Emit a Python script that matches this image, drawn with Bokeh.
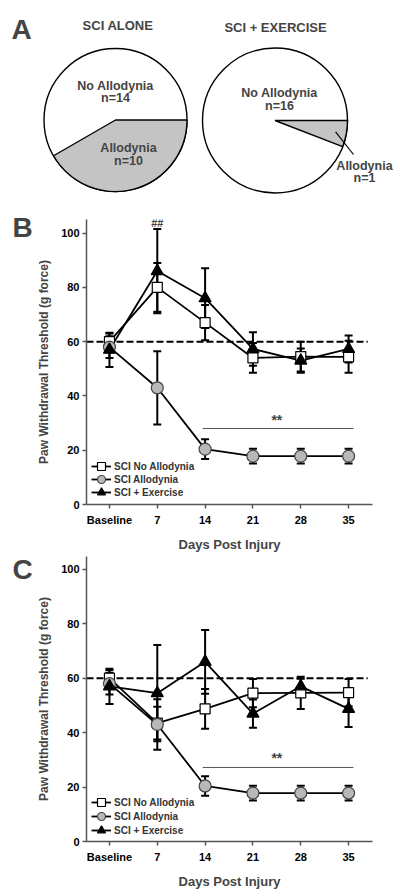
import math
from bokeh.plotting import figure
from bokeh.models import (ColumnDataSource, Whisker, TeeHead, Label, Legend, LegendItem,
                          FixedTicker, Range1d)
from bokeh.layouts import column, row
from bokeh.embed import file_html
from bokeh.resources import INLINE

FONT = "Liberation Sans"

# ---------------- Panel A data ----------------
pie_titles = ["SCI ALONE", "SCI + EXERCISE"]
no_allodynia_n = [14, 16]
allodynia_n = [10, 1]

# ---------------- Panels B / C data ----------------
days = ["Baseline", "7", "14", "21", "28", "35"]

b_noallo = [60, 80, 67, 54, 54.5, 54.4]
b_noallo_err = [3, 9, 6.5, 5.5, 5.5, 5.9]
b_allo = [58, 43, 20.4, 17.8, 17.8, 17.8]
b_allo_err = [4, 13.5, 3.6, 2.7, 2.7, 2.7]
b_ex = [57, 86, 76, 57.3, 53, 57.3]
b_ex_err = [6.3, 15.5, 11, 6.2, 4.5, 5]

c_noallo = [60, 43.5, 48.7, 54.5, 54.6, 54.7]
c_noallo_err = [3, 6, 7.3, 5.2, 5.9, 5]
c_allo = [58, 43, 20.4, 17.8, 17.8, 17.8]
c_allo_err = [4, 9.3, 3.6, 2.7, 2.7, 2.7]
c_ex = [57, 54.5, 66, 47, 57, 48.7]
c_ex_err = [6.5, 17.7, 11.7, 5.2, 2.8, 6.6]

threshold = 60
y_ticks = [0, 20, 40, 60, 80, 100]
series_names = ["SCI No Allodynia", "SCI Allodynia", "SCI + Exercise"]


def no_align(p):
    try:
        p.frame_align = False
    except Exception:
        pass


def blank_fig(w, h):
    f = figure(width=w, height=h, x_range=Range1d(0, w), y_range=Range1d(0, h),
               output_backend="svg", toolbar_location=None,
               x_axis_location=None, y_axis_location=None,
               min_border=0, min_border_left=0, min_border_right=0,
               min_border_top=0, min_border_bottom=0, outline_line_color=None)
    f.grid.visible = False
    no_align(f)
    return f


def txt(p, x, y, text, size="12px", align="center", baseline="middle"):
    p.add_layout(Label(x=x, y=y, text=text, text_font=FONT, text_font_style="bold",
                       text_font_size=size, text_align=align, text_baseline=baseline))


# ---------------- Panel A: pies ----------------
PA_H = 194
pa = blank_fig(400, PA_H)


def Y(ry):
    return PA_H - ry


centers = [(115, 119.5), (274.5, 120)]
radii = [71.5, 72.5]
title_pos = [(117.5, 24.5), (275, 26.5)]
no_lab_pos = [(115, 85, 97.5), (279, 92, 105)]
al_lab_pos = [(128, 147.5, 160), (364, 165, 177.5)]

for i in range(2):
    cx, cy = centers[i]
    r = radii[i]
    total = no_allodynia_n[i] + allodynia_n[i]
    theta = 2 * math.pi * allodynia_n[i] / total
    pa.circle(x=[cx], y=[Y(cy)], radius=r, radius_units="screen",
              fill_color="white", line_color="black", line_width=1.4)
    pa.wedge(x=[cx], y=[Y(cy)], radius=r, radius_units="screen",
             start_angle=-theta, end_angle=0, fill_color="#c4c4c4",
             line_color="black", line_width=1.4)
    tx, ty = title_pos[i]
    txt(pa, tx, Y(ty), pie_titles[i], size="13px")
    nx, ny1, ny2 = no_lab_pos[i]
    txt(pa, nx, Y(ny1), "No Allodynia", size="12.5px")
    txt(pa, nx, Y(ny2), "n=%d" % no_allodynia_n[i], size="12.5px")
    ax, ay1, ay2 = al_lab_pos[i]
    txt(pa, ax, Y(ay1), "Allodynia", size="12.5px")
    txt(pa, ax, Y(ay2), "n=%d" % allodynia_n[i], size="12.5px")
    if i == 1:
        mid = -theta / 2
        sx = cx + 0.85 * r * math.cos(mid)
        sy = Y(cy) + 0.85 * r * math.sin(mid)
        pa.line([sx, 353], [sy, Y(154)], line_color="black", line_width=1.2)

txt(pa, 11, Y(29), "A", size="28px", align="left", baseline="middle")


# ---------------- Panels B / C ----------------
LET_W = 34


def make_panel(letter, letter_mid, data, height, top_border, bottom_border, ymax,
               sig_y, star_y, hash_mark, legend_ys):
    x = list(range(len(days)))
    p = figure(width=400 - LET_W, height=height, x_range=Range1d(-0.48, 5.5),
               y_range=Range1d(0, ymax), output_backend="svg", toolbar_location=None,
               min_border_left=85 - LET_W, min_border_right=28, min_border_top=top_border,
               min_border_bottom=bottom_border, outline_line_color=None)
    p.grid.visible = False
    p.xaxis.ticker = FixedTicker(ticks=x)
    p.xaxis.major_label_overrides = {i: d for i, d in enumerate(days)}
    p.yaxis.ticker = FixedTicker(ticks=y_ticks)
    p.axis.minor_tick_line_color = None
    p.axis.major_tick_in = 0
    p.axis.major_tick_out = 4
    p.axis.axis_line_color = "#555555"
    p.axis.axis_line_width = 1.5
    p.axis.major_tick_line_color = "#555555"
    p.axis.major_tick_line_width = 1.5
    p.axis.major_label_text_font = FONT
    p.axis.major_label_text_font_style = "bold"
    p.axis.major_label_text_font_size = "11px"
    p.axis.major_label_text_color = "black"
    p.xaxis.major_label_standoff = 5
    p.yaxis.major_label_standoff = 3
    p.xaxis.axis_label = "Days Post Injury"
    p.yaxis.axis_label = "Paw Withdrawal Threshold (g force)"
    p.axis.axis_label_text_font = FONT
    p.axis.axis_label_text_font_style = "bold"
    p.xaxis.axis_label_text_font_size = "13px"
    p.yaxis.axis_label_text_font_size = "12px"
    p.xaxis.axis_label_standoff = 8
    p.yaxis.axis_label_standoff = 7

    # threshold dashed line
    p.line([-0.48, 5.4], [threshold, threshold], line_dash="7 3", line_width=2,
           line_color="black")
    # significance bar
    p.line([1.95, 5.1], [sig_y, sig_y], line_color="#555555", line_width=1)
    txt(p, 3.5, star_y, "**", size="14px")
    if hash_mark:
        txt(p, 1, 103.8, "##", size="11px")

    styles = [
        dict(marker="square", size=10, fill_color="white", line_color="black"),
        dict(marker="circle", size=12, fill_color="#b8b8b8", line_color="#444444"),
        dict(marker="triangle", size=12, fill_color="black", line_color="black"),
    ]
    srcs = []
    for vals, errs in data:
        src = ColumnDataSource(dict(x=x, y=vals,
                                    upper=[v + e for v, e in zip(vals, errs)],
                                    lower=[v - e for v, e in zip(vals, errs)]))
        srcs.append(src)
        p.add_layout(Whisker(source=src, base="x", upper="upper", lower="lower",
                             line_width=2, line_color="black",
                             upper_head=TeeHead(size=8, line_width=2, line_color="black"),
                             lower_head=TeeHead(size=8, line_width=2, line_color="black")))
    lines = [p.line("x", "y", source=s, line_width=1.8, line_color="black") for s in srcs]
    marks = [p.scatter("x", "y", source=s, line_width=1.2, **st) for s, st in zip(srcs, styles)]

    for n, l, m, ly in zip(series_names, lines, marks, legend_ys):
        lg = Legend(items=[LegendItem(label=n, renderers=[l, m])], location=(5, ly),
                    padding=0, margin=0, spacing=0,
                    glyph_height=22, glyph_width=20, label_height=13, label_standoff=3,
                    label_text_font=FONT, label_text_font_style="bold",
                    label_text_font_size="10px", label_text_color="#333333",
                    background_fill_alpha=0, border_line_alpha=0)
        p.add_layout(lg)

    lf = blank_fig(LET_W, height)
    txt(lf, 12, height - letter_mid, letter, size="28px", align="left",
        baseline="middle")
    return row(lf, p)


rb = make_panel("B", 227 - 194,
                [(b_noallo, b_noallo_err), (b_allo, b_allo_err), (b_ex, b_ex_err)],
                height=360, top_border=25, bottom_border=47, ymax=105,
                sig_y=28, star_y=31, hash_mark=True, legend_ys=[27, 14, 1])
rc = make_panel("C", 569 - 554,
                [(c_noallo, c_noallo_err), (c_allo, c_allo_err), (c_ex, c_ex_err)],
                height=342, top_border=2, bottom_border=55, ymax=104.7,
                sig_y=27.2, star_y=30.5, hash_mark=False, legend_ys=[28, 14, 0])

layout = column(pa, rb, rc)
open("out.html", "w").write(file_html(layout, INLINE))
